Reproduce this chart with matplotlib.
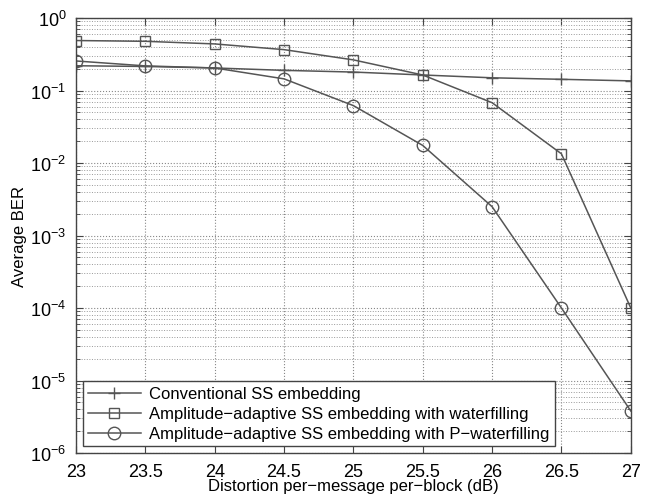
import matplotlib
matplotlib.use("Agg")
import matplotlib.pyplot as plt
from matplotlib.ticker import LogLocator, NullFormatter

distortion = [23, 23.5, 24, 24.5, 25, 25.5, 26, 26.5, 27]
ber_conventional = [0.22, 0.215, 0.205, 0.19, 0.18, 0.164, 0.15, 0.143, 0.136]
ber_waterfilling = [0.49, 0.478, 0.44, 0.367, 0.265, 0.164, 0.068, 0.0134, 1.0e-4]
ber_p_waterfilling = [0.256, 0.219, 0.205, 0.145, 0.062, 0.0175, 0.0025, 1.0e-4, 3.8e-6]

labels = [
    "Conventional SS embedding",
    "Amplitude\u2212adaptive SS embedding with waterfilling",
    "Amplitude\u2212adaptive SS embedding with P\u2212waterfilling",
]

plt.rcParams["font.family"] = ["Liberation Sans", "DejaVu Sans"]
line_c = "#555555"

fig = plt.figure(figsize=(6.53, 5.02), dpi=100)
ax = fig.add_axes([0.1164, 0.0956, 0.8496, 0.8664])

ax.semilogy(distortion, ber_conventional, color=line_c, lw=1.1, marker="+",
            ms=9, mew=1.0, label=labels[0])
ax.semilogy(distortion, ber_waterfilling, color=line_c, lw=1.1, marker="s",
            ms=7, mfc="none", mew=1.0, label=labels[1])
ax.semilogy(distortion, ber_p_waterfilling, color=line_c, lw=1.1, marker="o",
            ms=9, mfc="none", mew=1.0, label=labels[2])

ax.set_xlim(23, 27)
ax.set_ylim(1e-6, 1)
ax.set_xticks(distortion)
ax.set_xticklabels(["23", "23.5", "24", "24.5", "25", "25.5", "26", "26.5", "27"])
ax.yaxis.set_major_locator(LogLocator(base=10, numticks=10))
ax.yaxis.set_minor_locator(LogLocator(base=10, subs=range(2, 10), numticks=100))
ax.yaxis.set_minor_formatter(NullFormatter())

ax.grid(True, which="major", axis="both", ls=":", color="#888888", lw=0.8)
ax.grid(True, which="minor", axis="y", ls=":", color="#999999", lw=0.7)
ax.tick_params(which="both", direction="in", top=True, right=True, labelsize=13,
               color="#444444")
ax.tick_params(which="major", length=5, pad=7)
ax.tick_params(which="minor", length=3)
for s in ax.spines.values():
    s.set_color("#444444")
    s.set_linewidth(1.0)

ax.set_xlabel("Distortion per\u2212message per\u2212block (dB)", fontsize=12, labelpad=-1)
ax.set_ylabel("Average BER", fontsize=12, labelpad=2)

leg = ax.legend(loc="lower left", fontsize=12, fancybox=False, edgecolor="#444444",
                framealpha=1, borderaxespad=0.4, handlelength=3.2, labelspacing=0.3,
                borderpad=0.3, handletextpad=0.5)
leg.get_frame().set_linewidth(1.0)

fig.savefig("out.png", dpi=100)
